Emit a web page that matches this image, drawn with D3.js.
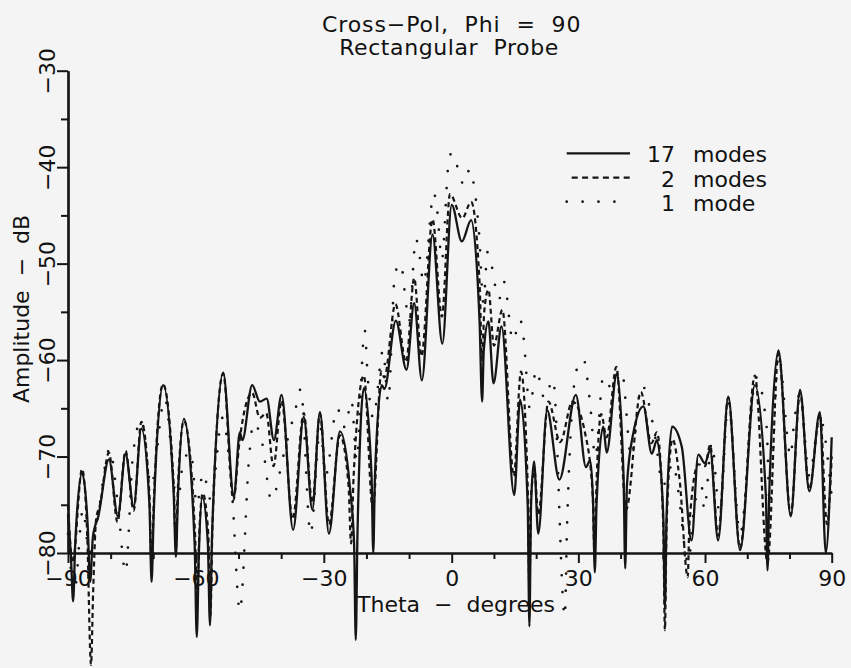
<!DOCTYPE html>
<html>
<head>
<meta charset="utf-8">
<script src="https://cdn.jsdelivr.net/npm/d3@7"></script>
<style>
  html, body { margin: 0; padding: 0; background: #f4f4f4; }
  svg { display: block; }
  text { font-family: "DejaVu Sans", sans-serif; fill: #111; }
</style>
</head>
<body>
<svg id="chart" width="851" height="668"></svg>
<script>
// Cross-polar far-field pattern, Phi = 90 cut, rectangular probe.
// Theta in degrees, amplitude in dB.

// 17-mode solution
const theta17 = [-90.0, -89.3, -88.8, -88.3, -86.7, -85.4, -84.8, -84.2, -83.7, -83.0,
  -80.4, -78.3, -76.5, -74.6, -72.8, -70.9, -70.4, -69.9, -67.7, -65.2,
  -64.7, -64.2, -62.8, -60.3, -59.8, -59.3, -58.5, -57.2, -56.7, -56.2,
  -53.6, -51.1, -49.7, -49.1, -46.8, -45.0, -43.4, -41.7, -39.9, -37.2,
  -34.7, -32.7, -30.9, -28.8, -26.2, -23.9, -22.9, -22.5, -22.1, -20.6,
  -18.8, -18.4, -18.0, -16.4, -15.8, -13.1, -10.6, -8.8, -7.0, -4.5,
  -2.2, 0.0, 2.4, 4.6, 6.6, 7.2, 7.6, 8.7, 9.9, 11.8,
  14.8, 16.2, 18.0, 18.4, 18.8, 19.5, 20.5, 22.6, 25.5, 29.4,
  31.8, 32.8, 33.5, 33.9, 34.3, 35.9, 36.7, 39.1, 40.7, 41.1,
  41.5, 43.0, 45.4, 47.4, 48.6, 50.1, 50.5, 50.9, 52.2, 54.5,
  56.8, 58.4, 60.0, 61.2, 63.1, 65.5, 68.3, 71.8, 74.4, 74.8,
  75.2, 77.4, 80.3, 82.5, 84.7, 87.2, 88.6, 90.0];
const amp17 = [-76.0, -80.5, -85.0, -79.0, -71.7, -77.0, -83.0, -78.5, -77.3, -76.4,
  -70.3, -76.2, -69.7, -75.2, -67.1, -75.0, -83.0, -76.0, -62.6, -74.0,
  -80.4, -74.0, -66.1, -79.0, -88.7, -80.0, -74.2, -79.0, -87.5, -78.0,
  -61.3, -74.2, -67.5, -68.3, -62.6, -64.3, -64.0, -68.3, -63.6, -77.6,
  -65.9, -75.5, -65.4, -78.0, -67.4, -73.1, -79.0, -89.0, -78.0, -62.9,
  -72.0, -80.0, -72.0, -62.6, -63.0, -55.9, -61.0, -54.1, -62.1, -47.0,
  -58.3, -43.9, -47.7, -45.5, -56.0, -64.3, -59.0, -56.0, -62.4, -56.5,
  -74.0, -64.1, -75.0, -87.6, -75.0, -70.5, -78.0, -65.2, -72.4, -63.6,
  -71.1, -70.4, -75.0, -82.0, -75.0, -66.9, -69.6, -61.4, -72.0, -81.6,
  -73.0, -67.6, -64.8, -69.7, -68.3, -76.0, -85.7, -76.0, -66.9, -69.0,
  -78.7, -69.8, -70.7, -69.3, -78.7, -63.8, -79.7, -62.6, -74.0, -81.8,
  -74.0, -59.0, -76.2, -63.1, -73.6, -65.4, -80.0, -68.0];

// 2-mode solution
const theta2 = [-90.0, -88.9, -86.7, -85.5, -84.6, -84.1, -83.4, -82.5, -80.4, -78.4,
  -76.5, -74.6, -72.8, -70.9, -70.4, -69.9, -67.7, -65.2, -64.7, -64.2,
  -62.8, -60.2, -59.7, -59.2, -58.4, -57.1, -56.6, -56.1, -53.6, -51.2,
  -49.8, -46.8, -45.0, -43.5, -41.8, -39.9, -37.3, -34.7, -32.7, -30.9,
  -28.8, -26.2, -24.2, -23.6, -23.0, -20.6, -18.5, -16.5, -15.8, -13.2,
  -10.7, -8.8, -7.1, -4.5, -2.3, -0.4, 2.5, 4.6, 6.6, 7.2,
  7.7, 8.7, 10.0, 12.0, 14.7, 16.4, 18.0, 18.4, 18.8, 19.6,
  20.5, 22.9, 25.7, 28.6, 31.6, 33.4, 33.8, 34.2, 35.4, 36.7,
  39.0, 41.3, 44.8, 47.3, 48.6, 50.1, 50.5, 50.9, 52.3, 54.0,
  55.9, 56.3, 58.4, 60.0, 61.2, 63.1, 65.5, 68.3, 71.8, 74.8,
  77.4, 80.3, 82.5, 84.7, 87.2, 88.9, 90.0];
const amp2 = [-75.0, -81.0, -71.3, -78.0, -91.6, -84.0, -76.5, -75.0, -69.6, -76.8,
  -69.4, -75.6, -66.4, -74.0, -81.5, -75.0, -62.5, -73.0, -79.5, -73.0,
  -66.3, -78.0, -85.5, -78.0, -73.8, -78.0, -86.5, -77.0, -61.4, -74.5,
  -68.5, -63.4, -66.0, -65.5, -71.0, -64.2, -76.5, -65.5, -74.8, -65.6,
  -77.0, -67.8, -73.0, -79.0, -72.0, -61.6, -75.5, -61.2, -61.8, -54.2,
  -60.2, -51.5, -59.6, -45.4, -55.5, -42.8, -45.3, -43.6, -52.0, -60.0,
  -55.0, -52.7, -58.5, -54.8, -72.0, -61.2, -73.0, -84.0, -74.0, -71.5,
  -76.0, -64.3, -68.5, -64.3, -67.6, -74.0, -80.0, -74.0, -65.6, -68.0,
  -60.7, -75.5, -63.3, -68.6, -67.5, -77.0, -88.0, -77.0, -68.2, -72.5,
  -82.5, -77.0, -70.8, -71.0, -68.8, -78.2, -63.9, -79.5, -61.6, -81.0,
  -59.3, -76.0, -63.4, -73.4, -65.6, -77.0, -70.0];

// 1-mode solution
const theta1 = [-90.0, -88.5, -86.5, -85.0, -83.3, -80.2, -78.3, -76.5, -74.8, -72.8,
  -70.5, -67.3, -64.3, -63.0, -61.2, -59.8, -58.3, -56.5, -53.8, -51.5,
  -49.7, -47.5, -46.5, -44.5, -42.3, -39.3, -36.6, -35.4, -33.1, -30.8,
  -29.6, -26.9, -25.0, -23.5, -22.3, -20.4, -19.7, -18.4, -16.1, -14.9,
  -13.3, -11.9, -11.0, -10.0, -8.4, -7.6, -6.6, -4.2, -3.4, -2.3,
  -0.8, 0.0, 1.6, 2.8, 4.3, 5.0, 6.5, 7.5, 8.5, 9.2,
  11.2, 12.4, 14.5, 16.2, 17.0, 18.5, 20.0, 22.0, 24.0, 26.8,
  27.3, 29.6, 31.2, 32.8, 34.0, 35.9, 38.0, 40.3, 42.5, 45.0,
  48.2, 50.0, 52.5, 53.6, 56.0, 57.5, 59.2, 59.8, 61.6, 63.5,
  65.5, 68.3, 72.1, 74.6, 75.3, 77.4, 80.3, 80.9, 82.5, 84.7,
  87.2, 90.0];
const amp1 = [-78.0, -84.0, -75.5, -80.0, -77.0, -69.2, -75.0, -82.0, -70.0, -66.2,
  -73.0, -64.0, -75.0, -70.6, -69.5, -75.0, -71.7, -74.5, -66.0, -74.0,
  -86.0, -70.0, -66.5, -68.5, -74.5, -69.6, -65.0, -63.0, -78.0, -67.0,
  -72.0, -65.0, -67.0, -64.2, -70.4, -56.9, -61.8, -66.0, -59.0, -64.3,
  -51.0, -50.0, -53.0, -56.0, -47.4, -49.0, -52.0, -42.7, -44.5, -49.6,
  -39.8, -38.5, -40.3, -41.8, -40.2, -41.2, -47.0, -54.0, -48.8, -49.7,
  -53.7, -51.9, -58.0, -55.8, -57.6, -65.0, -61.0, -64.0, -62.0, -86.6,
  -77.4, -61.0, -59.9, -64.6, -70.0, -61.7, -63.0, -61.2, -70.0, -62.6,
  -68.0, -73.0, -70.7, -73.4, -81.0, -75.0, -73.1, -75.5, -68.6, -76.0,
  -64.5, -78.0, -61.8, -67.0, -75.0, -59.5, -70.0, -67.3, -63.5, -72.0,
  -66.0, -74.2];

const seriesNames = ["17  modes", "2  modes", "1  mode"];
const xMajorTicks = [-90, -60, -30, 0, 30, 60, 90];
const xMinorTicks = [-80, -70, -50, -40, -20, -10, 10, 20, 40, 50, 70, 80];
const yMajorTicks = [-80, -70, -60, -50, -40, -30];
const yMinorTicks = [-75, -65, -55, -45, -35];

const svg = d3.select("#chart");
svg.append("rect").attr("width", 851).attr("height", 668).attr("fill", "#f4f4f4");

// Plot frame: theta axis calibrated at -90, 0 and 90 degrees
const x = d3.scaleLinear().domain([-90, 0, 90]).range([68, 451.7, 831.7]);
const y = d3.scaleLinear().domain([-80, -30]).range([553, 70.7]);

const ink = "#151515";

// Axes
const gx = svg.append("g").attr("transform", `translate(0,${y(-80)})`);
gx.call(d3.axisBottom(x).tickValues(xMinorTicks).tickSize(6).tickSizeOuter(0).tickFormat(""));
const gxMajor = svg.append("g").attr("transform", `translate(0,${y(-80)})`);
gxMajor.call(d3.axisBottom(x).tickValues(xMajorTicks).tickSize(10).tickSizeOuter(0));
gxMajor.selectAll("text").attr("y", 33).attr("dy", null)
  .style("font-size", "22px").attr("font-family", null);

const gy = svg.append("g").attr("transform", `translate(${x(-90)},0)`);
gy.call(d3.axisLeft(y).tickValues(yMinorTicks).tickSize(7).tickSizeOuter(0).tickFormat(""));
const gyMajor = svg.append("g").attr("transform", `translate(${x(-90)},0)`);
gyMajor.call(d3.axisLeft(y).tickValues(yMajorTicks).tickSize(11).tickSizeOuter(0));
gyMajor.selectAll("text")
  .attr("transform", "rotate(-90)")
  .attr("x", 0).attr("y", -13).attr("dy", null)
  .attr("text-anchor", "middle")
  .style("font-size", "22px");

svg.selectAll(".domain").attr("stroke", ink).attr("stroke-width", 2.2);
svg.selectAll(".tick line").attr("stroke", ink).attr("stroke-width", 2);
svg.selectAll(".tick text").attr("fill", ink);

// Curves
const line = d3.line()
  .x(d => x(d[0]))
  .y(d => y(d[1]))
  .curve(d3.curveMonotoneX);

const pts = (t, a) => t.map((v, i) => [v, a[i]]);

const styles = [
  { dash: null, width: 2.3, cap: "butt" },
  { dash: "5,3.6", width: 2.2, cap: "butt" },
  { dash: "0,17", width: 2.7, cap: "round" }
];

const curves = [pts(theta1, amp1), pts(theta2, amp2), pts(theta17, amp17)];
const curveStyles = [styles[2], styles[1], styles[0]];

svg.append("g").selectAll("path")
  .data(curves)
  .join("path")
  .attr("d", line)
  .attr("fill", "none")
  .attr("stroke", ink)
  .attr("stroke-linejoin", "round")
  .attr("stroke-width", (d, i) => curveStyles[i].width)
  .attr("stroke-linecap", (d, i) => curveStyles[i].cap)
  .attr("stroke-dasharray", (d, i) => curveStyles[i].dash);

// Titles
svg.append("text").attr("x", 451.7).attr("y", 32).attr("text-anchor", "middle")
  .style("white-space", "pre")
  .style("font-size", "22px").style("letter-spacing", "0.9px")
  .text("Cross\u2212Pol,  Phi  =  90");
svg.append("text").attr("x", 449).attr("y", 55).attr("text-anchor", "middle")
  .style("white-space", "pre")
  .style("font-size", "22px").style("letter-spacing", "0.6px")
  .text("Rectangular  Probe");

svg.append("text").attr("x", 456).attr("y", 612).attr("text-anchor", "middle")
  .style("white-space", "pre").style("font-size", "22px")
  .text("Theta  \u2212  degrees");

svg.append("text")
  .attr("transform", "translate(28.5,309) rotate(-90)")
  .attr("text-anchor", "middle")
  .style("white-space", "pre").style("font-size", "22px")
  .text("Amplitude  \u2212  dB");

// Legend
const legendY = [153.3, 177.7, 201.7];
const legendStart = [566.7, 571.7, 566.7];
const lg = svg.append("g");
seriesNames.forEach((name, i) => {
  const st = styles[i];
  lg.append("line")
    .attr("x1", legendStart[i]).attr("x2", 630)
    .attr("y1", legendY[i]).attr("y2", legendY[i])
    .attr("stroke", ink)
    .attr("stroke-width", st.width)
    .attr("stroke-linecap", st.cap)
    .attr("stroke-dasharray", i === 2 ? "0,15.9" : (i === 1 ? "6,4.4" : null));
  const parts = name.split("  ");
  lg.append("text").attr("x", 675).attr("y", legendY[i] + 9)
    .attr("text-anchor", "end").style("font-size", "22px").text(parts[0]);
  lg.append("text").attr("x", 693).attr("y", legendY[i] + 9)
    .style("font-size", "22px").text(parts[1]);
});
</script>
</body>
</html>
